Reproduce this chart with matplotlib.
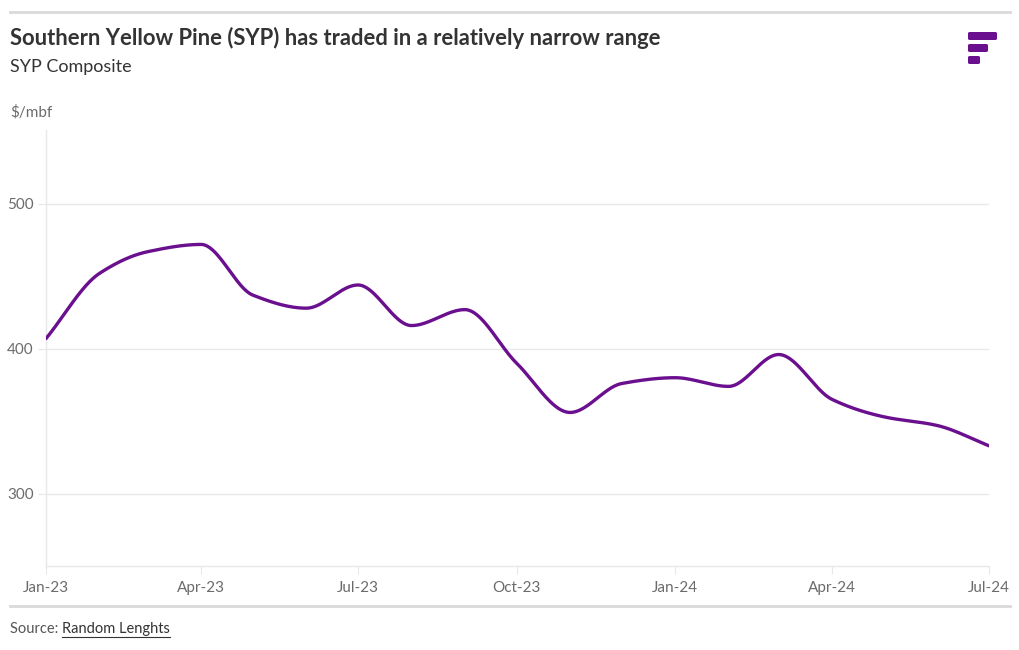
import numpy as np
import pandas as pd
import matplotlib
matplotlib.use('Agg')
import matplotlib.pyplot as plt
import matplotlib.dates as mdates
from matplotlib.patches import FancyBboxPatch
from matplotlib.lines import Line2D

plt.rcParams['font.family'] = ['Lato', 'DejaVu Sans']

# monthly SYP composite, $/mbf
months = pd.date_range('2023-01-01', '2024-07-01', freq='MS')
prices = [407, 452, 467, 472, 437, 428, 444, 416, 427, 390,
          356, 376, 380, 374, 396, 365, 353, 347, 333]
tick_labels = ['Jan-23', 'Apr-23', 'Jul-23', 'Oct-23', 'Jan-24', 'Apr-24', 'Jul-24']
y_ticks = [300, 400, 500]

purple = '#6a0f8e'
grey_txt = '#6b6b6b'
grid_c = '#e8e8e8'


def monotone(x, y, n=40):
    # monotone cubic (Fritsch-Carlson), like d3 curveMonotoneX
    x = np.asarray(x, float)
    y = np.asarray(y, float)
    h = np.diff(x)
    d = np.diff(y) / h
    m = np.zeros_like(y)
    m[0], m[-1] = d[0], d[-1]
    for i in range(1, len(y) - 1):
        if d[i - 1] * d[i] > 0:
            w1 = 2 * h[i] + h[i - 1]
            w2 = h[i] + 2 * h[i - 1]
            m[i] = (w1 + w2) / (w1 / d[i - 1] + w2 / d[i])
    xs, ys = [], []
    for i in range(len(h)):
        t = np.linspace(0, 1, n, endpoint=False)
        h00 = 2 * t**3 - 3 * t**2 + 1
        h10 = t**3 - 2 * t**2 + t
        h01 = -2 * t**3 + 3 * t**2
        h11 = t**3 - t**2
        xs.append(x[i] + t * h[i])
        ys.append(h00 * y[i] + h10 * h[i] * m[i] + h01 * y[i + 1] + h11 * h[i] * m[i + 1])
    xs.append([x[-1]])
    ys.append([y[-1]])
    return np.concatenate(xs), np.concatenate(ys)


fig = plt.figure(figsize=(10.2, 6.5), dpi=100)
ax = fig.add_axes([0.0451, 0.1292, 0.9245, 0.6708])

xnum = mdates.date2num(months)
sx, sy = monotone(xnum, prices)
ax.plot(sx, sy, color=purple, lw=2.4, solid_capstyle='round', zorder=3)

ax.set_xlim(xnum[0], xnum[-1])
ax.set_ylim(250, 551)
ax.set_yticks(y_ticks)
ax.set_yticklabels([str(v) for v in y_ticks])
ax.set_xticks(xnum[::3])
ax.set_xticklabels(tick_labels)
ax.grid(axis='y', color=grid_c, lw=1)
ax.set_axisbelow(True)
for s in ['top', 'right']:
    ax.spines[s].set_visible(False)
for s in ['left', 'bottom']:
    ax.spines[s].set_color(grid_c)
    ax.spines[s].set_linewidth(1)
ax.tick_params(axis='y', length=6, color=grid_c, labelcolor=grey_txt, labelsize=11, pad=3)
ax.tick_params(axis='x', length=6, color=grid_c, labelcolor=grey_txt, labelsize=11, pad=5)

# header
fig.add_artist(Line2D([10 / 1020, 1010 / 1020], [1 - 12 / 650] * 2, color='#d9d9d9', lw=2))
fig.text(10 / 1020, 1 - 38 / 650, 'Southern Yellow Pine (SYP) has traded in a relatively narrow range',
         fontsize=15.8, fontweight='bold', color='#333333', va='center')
fig.text(10 / 1020, 1 - 67 / 650, 'SYP Composite', fontsize=13, color='#333333', va='center')
fig.text(10 / 1020, 1 - 112 / 650, '$/mbf', fontsize=11, color=grey_txt, va='center')

# logo
for y0, w in [(32, 29), (44, 20), (56, 12)]:
    fig.add_artist(FancyBboxPatch((968 / 1020, 1 - (y0 + 8) / 650), w / 1020, 8 / 650,
                                  boxstyle='round,pad=0,rounding_size=0.002',
                                  transform=fig.transFigure, color=purple, lw=0))

# footer
fig.add_artist(Line2D([10 / 1020, 1010 / 1020], [1 - 606 / 650] * 2, color='#d9d9d9', lw=2))
t1 = fig.text(10 / 1020, 1 - 629 / 650, 'Source: ', fontsize=10.5, color='#555555', va='center')
fig.canvas.draw()
bb = t1.get_window_extent()
x2 = bb.x1 / fig.bbox.width
t2 = fig.text(x2, 1 - 629 / 650, 'Random Lenghts', fontsize=10.5, color='#333333', va='center')
fig.canvas.draw()
bb2 = t2.get_window_extent()
fig.add_artist(Line2D([bb2.x0 / fig.bbox.width, bb2.x1 / fig.bbox.width],
                      [(bb2.y0 - 1) / fig.bbox.height] * 2, color='#333333', lw=0.8))

fig.savefig('out.png', dpi=100)
